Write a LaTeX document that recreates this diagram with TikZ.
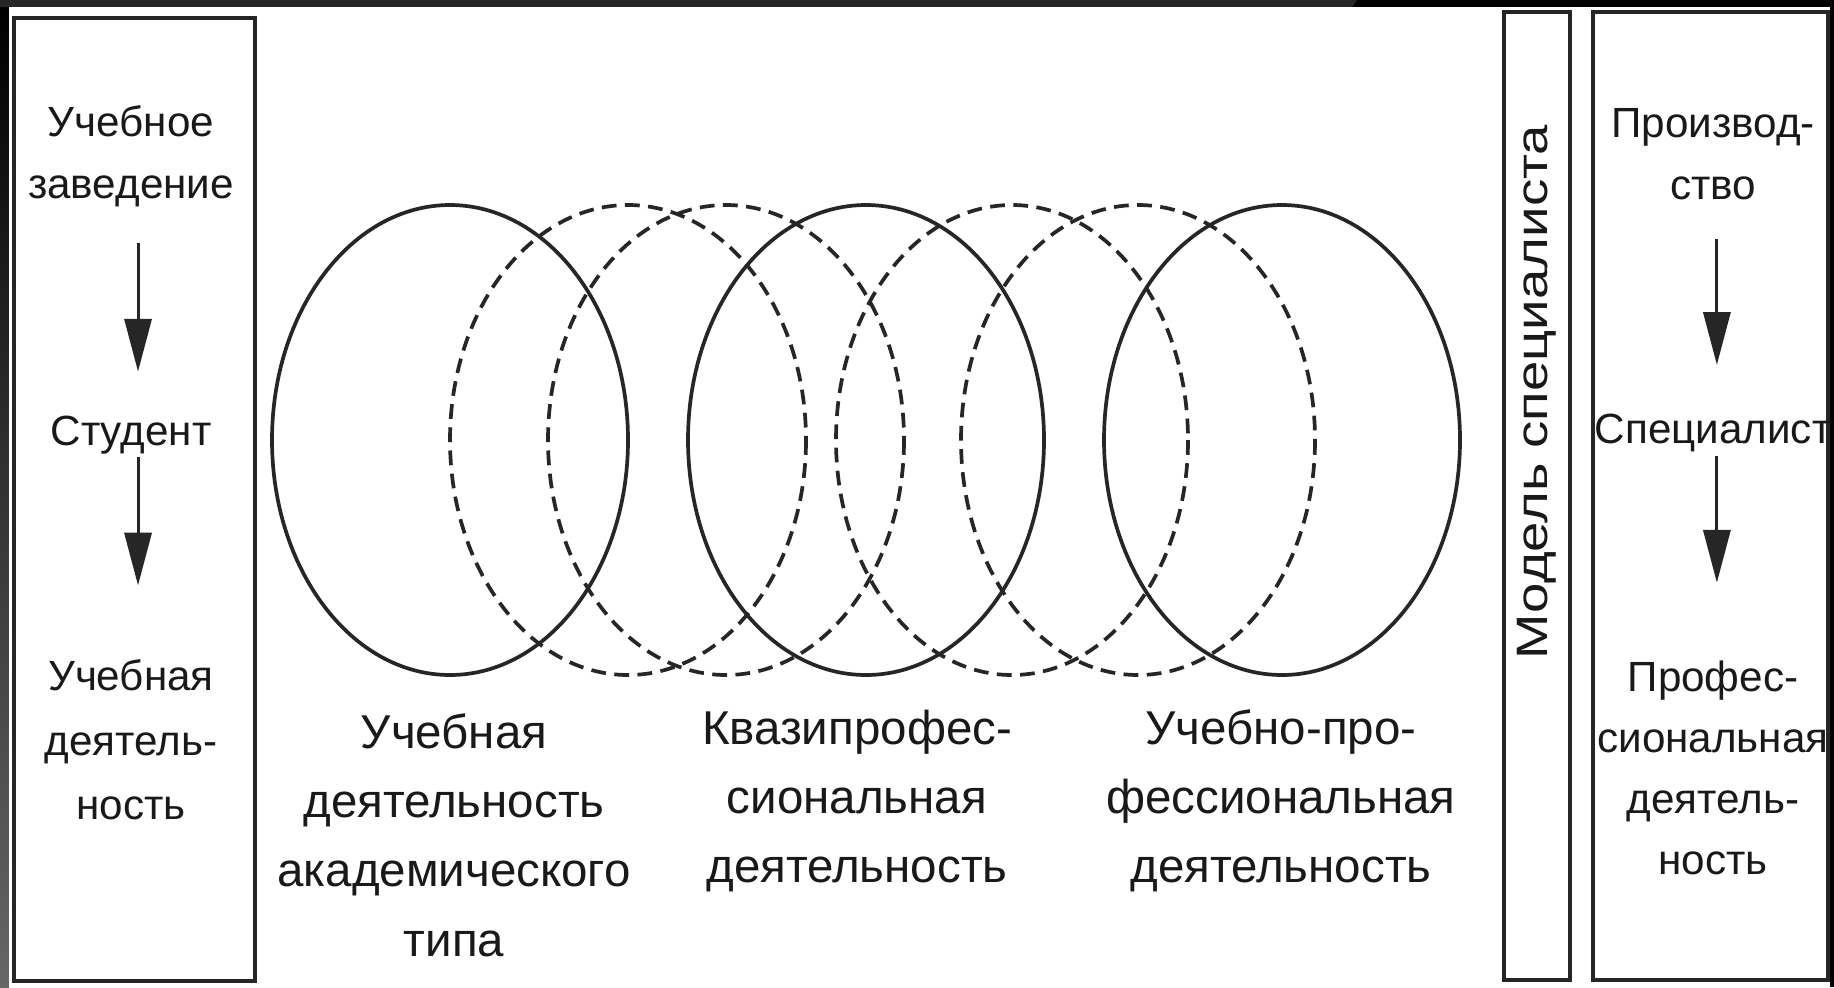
\documentclass[tikz,border=0pt]{standalone}
\usepackage{fontspec}
\setmainfont{Liberation Sans}
\usetikzlibrary{arrows.meta}
\begin{document}
\begin{tikzpicture}[x=0.01cm,y=-0.01cm,
  frame/.style={draw=black!85, line width=1.1pt},
  ring/.style={draw=black!85, line width=1.05pt},
  dring/.style={ring, dash pattern=on 4.2pt off 2.4pt},
  boxtxt/.style={align=center, inner sep=0pt, text=black!90, font=\fontsize{12}{17.6}\selectfont},
  lbl/.style={align=center, inner sep=0pt, text=black!90, font=\fontsize{13.5}{19.7}\selectfont},
  arr/.style={draw=black!85, line width=0.85pt, -{Triangle[length=15pt,width=7.7pt]}}
]
\useasboundingbox (0,0) rectangle (1834,987);
\fill[black] (0,0) rectangle (1834,987);
\shade[top color=black, bottom color=black!60] (0,6) rectangle (9,987);
\fill[black!85] (0,0) -- (1357,0) -- (1352,7) -- (0,7) -- cycle;
\fill[white] (9,7) rectangle (1830,987);

% boxes
\draw[frame] (14,18) rectangle (255,981);
\draw[frame] (1504,12) rectangle (1570,980);
\draw[frame] (1593,12) rectangle (1828,980);

% rings
\draw[ring] (450,440) ellipse [x radius=178, y radius=235];
\draw[ring] (866,440) ellipse [x radius=178, y radius=235];
\draw[ring] (1282,440) ellipse [x radius=178, y radius=235];
\draw[dring] (628,440) ellipse [x radius=178, y radius=235];
\draw[dring] (726,440) ellipse [x radius=178, y radius=235];
\draw[dring] (1012,440) ellipse [x radius=176, y radius=235];
\draw[dring] (1138,440) ellipse [x radius=177, y radius=235];

% left box
\node[boxtxt] (uz) at (131,156) {Учебное\\заведение};
\node[boxtxt] (st) at (131,435) {Студент};
\node[boxtxt, font=\fontsize{12}{18.3}\selectfont] (ud) at (131,740) {Учебная\\деятель-\\ность};
\draw[arr, shorten <=10pt, shorten >=12.4pt] ([xshift=2pt]uz.south) -- ([xshift=2pt]uz.south |- st.north);
\draw[arr, shorten <=0.5pt, shorten >=21pt] ([xshift=2pt]st.south) -- ([xshift=2pt]st.south |- ud.north);

% right boxes
\node[rotate=90, inner sep=0pt, text=black!90, font=\fontsize{12.5}{15}\selectfont] (ms) at (1537,392) {\scalebox{1.24}[1]{Модель специалиста}};
\node[boxtxt] (pr) at (1713,154) {Производ-\\ство};
\node[boxtxt] (sp) at (1713,433) {Специалист};
\node[boxtxt, font=\fontsize{12}{17.4}\selectfont] (pd) at (1713,768) {Профес-\\сиональная\\деятель-\\ность};
\draw[arr, shorten <=11pt, shorten >=13.8pt] ([xshift=1.1pt]pr.south) -- ([xshift=1.1pt]pr.south |- sp.north);
\draw[arr, shorten <=1pt, shorten >=22pt] ([xshift=1.1pt]sp.south) -- ([xshift=1.1pt]sp.south |- pd.north);

% labels
\node[lbl] (l1) at (454,835) {Учебная\\деятельность\\академического\\типа};
\node[lbl] (l2) at (857,801) {Квазипрофес-\\сиональная\\деятельность};
\node[lbl] (l3) at (1281,801) {Учебно-про-\\фессиональная\\деятельность};
\end{tikzpicture}
\end{document}
